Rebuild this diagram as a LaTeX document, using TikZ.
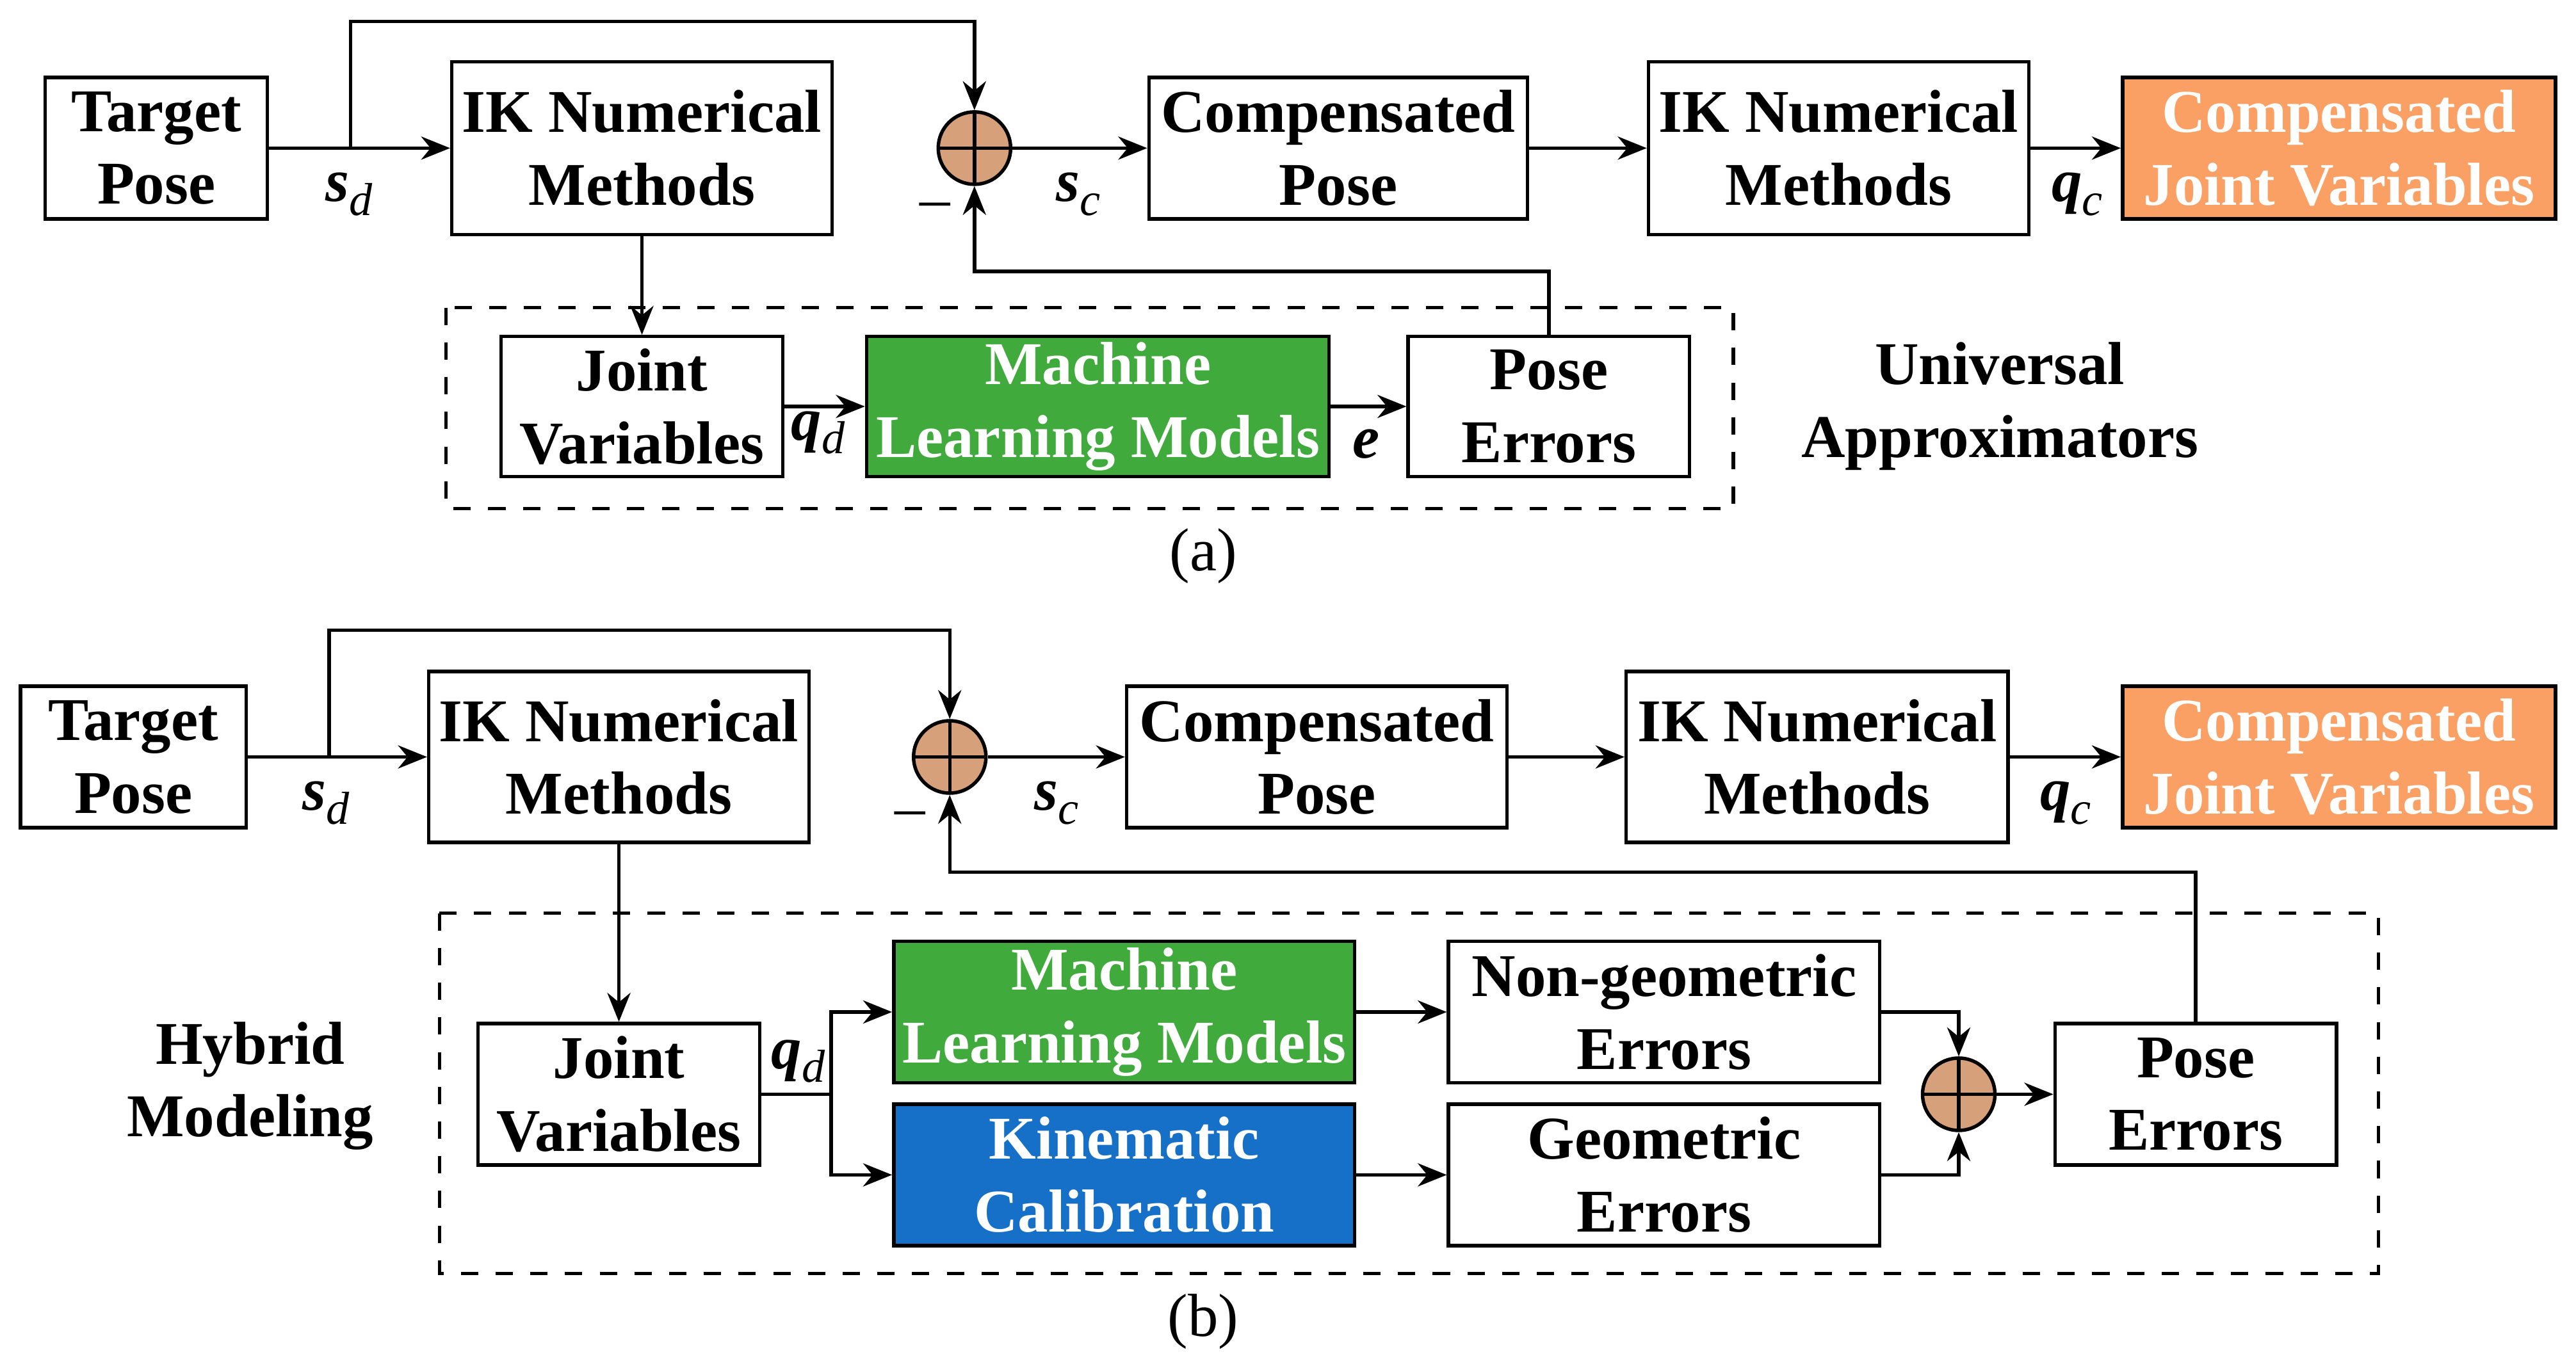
\documentclass[tikz,border=0pt]{standalone}
\usepackage{fontspec}
\setmainfont{Liberation Serif}
\usetikzlibrary{arrows.meta}
\definecolor{tan}{RGB}{214,160,122}
\definecolor{orng}{RGB}{250,160,100}
\definecolor{grn}{RGB}{64,170,60}
\definecolor{blu}{RGB}{22,112,200}
\tikzset{
 box/.style={draw,line width=0.6pt,align=center,font=\bfseries\fontsize{10.5pt}{12.6pt}\selectfont,inner sep=0pt},
 sum/.style={draw,circle,fill=tan,minimum size=4.4mm,inner sep=0pt,line width=0.6pt,
   path picture={\draw[line width=0.6pt] (path picture bounding box.north) -- (path picture bounding box.south)
   (path picture bounding box.west) -- (path picture bounding box.east);}},
 ar/.style={-{Stealth[length=5pt,width=4pt]},line width=0.6pt},
 ln/.style={line width=0.6pt},
 lab/.style={font=\fontsize{10.5pt}{12pt}\selectfont},
 dbox/.style={draw,dashed,line width=0.6pt}
}
\newcommand{\var}[2]{{\bfseries\itshape #1}\raisebox{-0.5ex}{\fontsize{8pt}{9pt}\selectfont\itshape #2}}
\begin{document}
\begin{tikzpicture}[x=0.1mm,y=-0.1mm]
\useasboundingbox (0,0) rectangle (1565,830);
% ---------- (a)
\draw[dbox] (271,187) rectangle (1053,309);
\node[box,minimum width=13.5mm,minimum height=8.6mm] (tpa) at (95,90) {Target\\Pose};
\node[box,minimum width=23.1mm,minimum height=10.5mm] (ika) at (390,90) {IK Numerical\\Methods};
\node[sum] (sa) at (592,90) {};
\node[box,minimum width=23mm,minimum height=8.6mm] (cpa) at (813,90) {Compensated\\Pose};
\node[box,minimum width=23.1mm,minimum height=10.5mm] (ik2a) at (1117,90) {IK Numerical\\Methods};
\node[box,fill=orng,text=white,minimum width=26.3mm,minimum height=8.6mm] (cja) at (1421,90) {Compensated\\Joint Variables};
\node[box,minimum width=17.1mm,minimum height=8.5mm] (jva) at (390,247) {Joint\\Variables};
\node[box,fill=grn,text=white,minimum width=28.1mm,minimum height=8.5mm] (mla) at (667,247) {Machine\\Learning Models};
\node[box,minimum width=17.1mm,minimum height=8.5mm] (pea) at (941,247) {Pose\\Errors};
\node[box,draw=none] (ua) at (1215,247) {Universal\\Approximators};
\node[lab] (la) at (731,338) {(a)};
\coordinate (ta) at (213,90);
\draw[ar] (tpa) -- (ika);
\draw[ar] (ta) -- (213,13) -- (592,13) -- (sa.north);
\draw[ar] (sa) -- (cpa);
\draw[ar] (cpa) -- (ik2a);
\draw[ar] (ik2a) -- (cja);
\draw[ar] (ika) -- (jva);
\draw[ar] (jva) -- (mla);
\draw[ar] (mla) -- (pea);
\draw[ar] (pea.north) -- (941,165) -- (592,165) -- (sa.south);
\node[lab] at (212,118) {\var{s}{d}};
\node[lab] at (655,118) {\var{s}{c}};
\node[lab] at (1262,118) {\var{q}{c}};
\node[lab] at (497,263) {\var{q}{d}};
\node[lab] at (830,270) {\bfseries\itshape e};
\node[lab] at (568,128) {--};
% ---------- (b)
\draw[dbox] (267,555) rectangle (1445,774);
\node[box,minimum width=13.7mm,minimum height=8.6mm] (tpb) at (81,460) {Target\\Pose};
\node[box,minimum width=23.1mm,minimum height=10.4mm] (ikb) at (376,460) {IK Numerical\\Methods};
\node[sum] (sb) at (577,460) {};
\node[box,minimum width=23.1mm,minimum height=8.6mm] (cpb) at (800,460) {Compensated\\Pose};
\node[box,minimum width=23.2mm,minimum height=10.4mm] (ik2b) at (1104,460) {IK Numerical\\Methods};
\node[box,fill=orng,text=white,minimum width=26.3mm,minimum height=8.6mm] (cjb) at (1421,460) {Compensated\\Joint Variables};
\node[box,minimum width=17.1mm,minimum height=8.6mm] (jvb) at (376,665) {Joint\\Variables};
\node[box,fill=grn,text=white,minimum width=28mm,minimum height=8.6mm] (mlb) at (683,615) {Machine\\Learning Models};
\node[box,fill=blu,text=white,minimum width=28mm,minimum height=8.6mm] (kcb) at (683,714) {Kinematic\\Calibration};
\node[box,minimum width=26.2mm,minimum height=8.6mm] (ngb) at (1011,615) {Non-geometric\\Errors};
\node[box,minimum width=26.2mm,minimum height=8.6mm] (geb) at (1011,714) {Geometric\\Errors};
\node[sum] (s2b) at (1190,665) {};
\node[box,minimum width=17.1mm,minimum height=8.6mm] (peb) at (1334,665) {Pose\\Errors};
\node[box,draw=none] (hb) at (152,660) {Hybrid\\Modeling};
\node[lab] (lb) at (731,803) {(b)};
\coordinate (tb) at (200,460);
\coordinate (qb) at (505,665);
\draw[ar] (tpb) -- (ikb);
\draw[ar] (tb) -- (200,383) -- (577,383) -- (sb.north);
\draw[ar] (sb) -- (cpb);
\draw[ar] (cpb) -- (ik2b);
\draw[ar] (ik2b) -- (cjb);
\draw[ar] (ikb) -- (jvb);
\draw[ln] (jvb) -- (qb);
\draw[ar] (qb) |- (mlb);
\draw[ar] (qb) |- (kcb);
\draw[ar] (mlb) -- (ngb);
\draw[ar] (kcb) -- (geb);
\draw[ar] (ngb) -| (s2b);
\draw[ar] (geb) -| (s2b);
\draw[ar] (s2b) -- (peb);
\draw[ar] (peb.north) -- (1334,530) -- (577,530) -- (sb.south);
\node[lab] at (198,488) {\var{s}{d}};
\node[lab] at (642,488) {\var{s}{c}};
\node[lab] at (1255,488) {\var{q}{c}};
\node[lab] at (485,645) {\var{q}{d}};
\node[lab] at (553,498) {--};
\end{tikzpicture}
\end{document}
